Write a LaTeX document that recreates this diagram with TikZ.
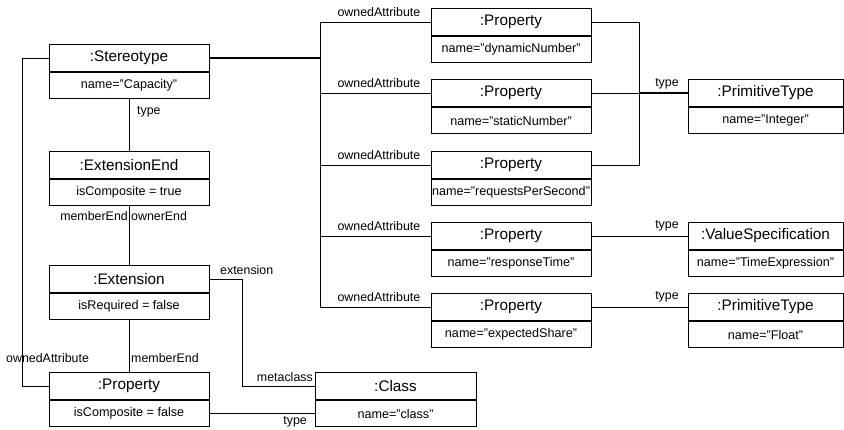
\documentclass[tikz,border=0pt]{standalone}
\usepackage{fontspec}
\setmainfont{Liberation Sans}
\usetikzlibrary{calc}
\begin{document}
\begin{tikzpicture}[x=1pt,y=-1pt,
  objtitle/.style={draw, line width=1pt, minimum width=160pt, minimum height=27pt,
    inner sep=0pt, font=\fontsize{15.3}{18}\selectfont, anchor=north},
  objattr/.style={draw, line width=1pt, minimum width=160pt, minimum height=26pt,
    inner sep=0pt, font=\fontsize{12.6}{15}\selectfont, anchor=north},
  narrow/.style={minimum width=155pt},
  role/.style={font=\fontsize{12.4}{15}\selectfont, inner sep=0pt},
  link/.style={line width=1pt}]
\useasboundingbox (0,0) rectangle (844,429);

% left column: stereotype, extension end, extension, property
\node[objtitle] (st) at (129,44) {:Stereotype};
\node[objattr] (st-a) at (st.south) {name="Capacity"};
\node[objtitle] (ee) at (129,151) {:ExtensionEnd};
\node[objattr] (ee-a) at (ee.south) {isComposite = true};
\node[objtitle] (ex) at (129,265) {:Extension};
\node[objattr] (ex-a) at (ex.south) {isRequired = false};
\node[objtitle] (pr) at (129,372) {:Property};
\node[objattr] (pr-a) at (pr.south) {isComposite = false};

% metaclass
\node[objtitle, minimum width=161pt] (cl) at (395.5,372) {:Class};
\node[objattr, minimum width=161pt] (cl-a) at (cl.south) {name="class"};

% owned attributes of the stereotype
\node[objtitle] (p1) at (511,8) {:Property};
\node[objattr] (p1-a) at (p1.south) {name="dynamicNumber"};
\node[objtitle] (p2) at (511,79) {:Property};
\node[objattr] (p2-a) at (p2.south) {name="staticNumber"};
\node[objtitle] (p3) at (511,151) {:Property};
\node[objattr] (p3-a) at (p3.south) {name="requestsPerSecond"};
\node[objtitle] (p4) at (511,222) {:Property};
\node[objattr] (p4-a) at (p4.south) {name="responseTime"};
\node[objtitle] (p5) at (511,293) {:Property};
\node[objattr] (p5-a) at (p5.south) {name="expectedShare"};

% attribute types
\node[objtitle, narrow] (int) at (765.5,79) {:PrimitiveType};
\node[objattr, narrow] (int-a) at (int.south) {name="Integer"};
\node[objtitle, narrow] (vs) at (765.5,222) {:ValueSpecification};
\node[objattr, narrow] (vs-a) at (vs.south) {name="TimeExpression"};
\node[objtitle, narrow] (fl) at (765.5,293) {:PrimitiveType};
\node[objattr, narrow] (fl-a) at (fl.south) {name="Float"};

% routing columns
\coordinate (lx) at (22,0);
\coordinate (bus) at (320,0);
\coordinate (tb) at (639,0);
\coordinate (ec) at (242,0);

% stereotype links
\draw[link] (st-a.south) -- (ee.north);
\node[role, anchor=west] at (137,112) {type};
\draw[link] (ee-a.south) -- (ex.north);
\node[role, anchor=east] at (128,216) {memberEnd};
\node[role, anchor=west] at (131,216) {ownerEnd};
\draw[link] (ex-a.south) -- (pr.north);
\node[role, anchor=west] at (131,358) {memberEnd};
\draw[link] (st.west) -- (st.west -| lx) -- (pr.west -| lx) -- (pr.west);
\node[role, anchor=west] at (6,358) {ownedAttribute};
\draw[link] (ex.east) -- (ex.east -| ec) -- (cl.west -| ec) -- (cl.west);
\node[role, anchor=west] at (220,270) {extension};
\node[role, anchor=east] at (313,377) {metaclass};
\draw[link] (pr-a.east) -- (cl-a.west);
\node[role, anchor=east] at (307,422) {type};

% owned attribute bus
\draw[link, line width=1.4pt] (st.east) -- (st.east -| bus);
\foreach \p in {p1,p2,p3,p4,p5}{
  \draw[link] (st.east -| bus) -- (\p.west -| bus) -- (\p.west);
  \node[role, anchor=east] at ($(\p.west) + (-10,-9.5)$) {ownedAttribute};
}

% type links
\draw[link] (p1.east) -- (p1.east -| tb) -- (p3.east -| tb) -- (p3.east);
\draw[link] (p2.east) -- (p2.east -| tb);
\draw[link, line width=1.4pt] (p2.east -| tb) -- (int.west);
\node[role] at (667,83.5) {type};
\draw[link] (p4.east) -- (vs.west);
\node[role] at (667,226) {type};
\draw[link] (p5.east) -- (fl.west);
\node[role] at (667,297) {type};
\end{tikzpicture}
\end{document}
